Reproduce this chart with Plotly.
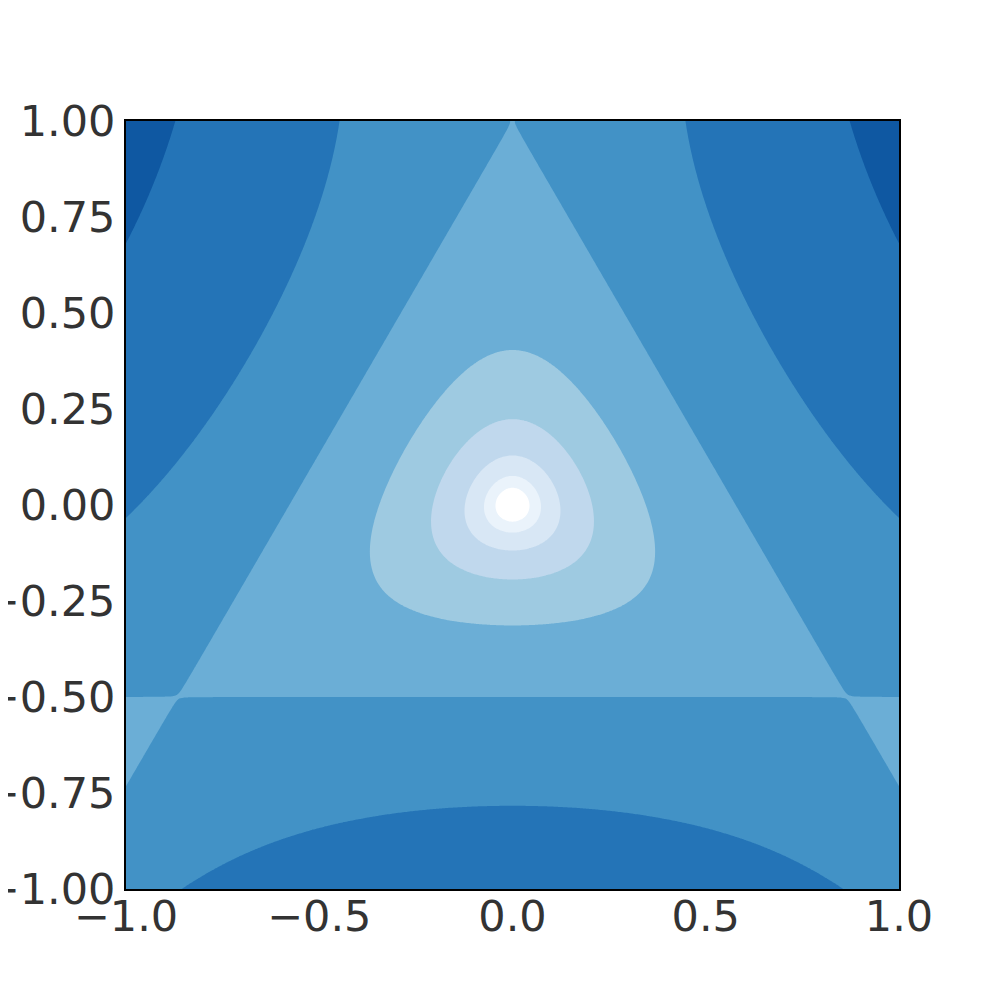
import numpy as np
import plotly.graph_objects as go

# Grid (Hénon–Heiles potential, shown on a log scale)
x_vals = np.linspace(-1.0, 1.0, 500)
y_vals = np.linspace(-1.0, 1.0, 500)

# Contour levels (potential values at band boundaries)
escape_level = 0.16672       # straight-line level through the saddles
level_step = 1.03            # spacing of levels in ln(V)
n_levels = 8
levels_below_escape = 5

# Band colours (inside -> outside)
band_colors = ["#ffffff", "#eaf3fb", "#d8e7f5", "#c0d8ed", "#9ecae1",
               "#6baed6", "#4292c6", "#2474b7", "#0f58a2"]

x_tick_vals = [-1.0, -0.5, 0.0, 0.5, 1.0]
y_tick_vals = [-1.0, -0.75, -0.5, -0.25, 0.0, 0.25, 0.5, 0.75, 1.0]

X, Y = np.meshgrid(x_vals, y_vals)
V = 0.5 * (X**2 + Y**2) + X**2 * Y - Y**3 / 3.0
Z = np.log(np.clip(V, 1e-12, None))

start = np.log(escape_level) - levels_below_escape * level_step
end = start + (n_levels - 1) * level_step

nb = len(band_colors) - 1
colorscale = [[k / nb, c] for k, c in enumerate(band_colors)]

fig = go.Figure(go.Contour(
    x=x_vals, y=y_vals, z=Z,
    contours=dict(start=start, end=end, size=level_step,
                  coloring="fill", showlines=False),
    line=dict(width=0, smoothing=0),
    colorscale=colorscale,
    showscale=False,
    hoverinfo="skip",
))

font = dict(family="DejaVu Sans", size=43, color="#333333")
fig.update_layout(
    width=1000, height=1000,
    margin=dict(l=118, r=109, t=113, b=119),
    paper_bgcolor="white", plot_bgcolor="white",
    showlegend=False,
)
fig.update_xaxes(range=[-1, 1], tickvals=x_tick_vals, tickformat=".1f",
                 showgrid=False, zeroline=False, showline=True, mirror=True,
                 linecolor="black", linewidth=2, ticks="", tickfont=font,
                 ticklabelstandoff=-12, automargin=False)
fig.update_yaxes(range=[-1, 1], tickvals=y_tick_vals, tickformat=".2f",
                 showgrid=False, zeroline=False, showline=True, mirror=True,
                 linecolor="black", linewidth=2, ticks="", tickfont=font,
                 ticklabelstandoff=0, automargin=False)

fig.write_html("out.html")
